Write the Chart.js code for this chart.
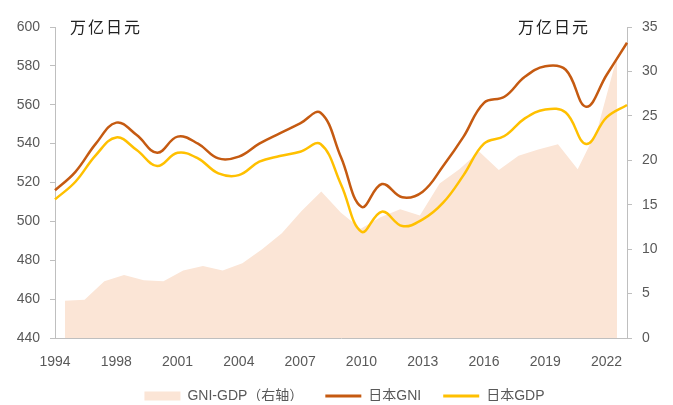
<!DOCTYPE html>
<html><head><meta charset="utf-8">
<script src="https://cdn.jsdelivr.net/npm/chart.js@4.4.1/dist/chart.umd.min.js"></script>
<style>html,body{margin:0;padding:0;background:#fff;}canvas{display:block}</style>
</head><body>
<canvas id="c" width="673" height="405"></canvas>
<script>
const categories = ['1994','1996','1997','1998','1999','2000','2001','2002','2003','2004','2005','2006','2007','2008','2009','2010','2011','2012','2013','2014','2015','2016','2017','2018','2019','2020','2021','2022','2023'];
const gniValues = [516, 525.5, 540, 550.8, 544.4, 535.3, 543.6, 540, 532.4, 533.3, 540, 545.3, 550.4, 555.9, 533, 507.5, 519.2, 512.4, 515.3, 528.5, 543.6, 561, 564.1, 574.4, 579.8, 578, 559, 575.3, 591.9];
const gdpValues = [511.3, 520.4, 534.1, 543.2, 536.7, 528.5, 535.3, 532.4, 524.7, 523.8, 530.7, 533.6, 535.8, 539.8, 519, 494.7, 505, 497.6, 501, 509.6, 523.8, 540, 543.9, 553, 557.6, 556, 539.8, 553.5, 559.9];
const gapValues = [4.2, 4.3, 6.4, 7.1, 6.5, 6.4, 7.6, 8.1, 7.6, 8.4, 10.0, 11.8, 14.3, 16.5, 14.1, 12.3, 13.6, 14.5, 13.8, 17.4, 19.0, 21.0, 18.9, 20.5, 21.2, 21.8, 19.0, 23.5, 31.7];
const xTickLabels = ['1994','1998','2001','2004','2007','2010','2013','2016','2019','2022'];
const leftTicks = [440, 460, 480, 500, 520, 540, 560, 580, 600];
const rightTicks = [0, 5, 10, 15, 20, 25, 30, 35];
const seriesNames = ['GNI-GDP（右轴）', '日本GNI', '日本GDP'];
const unitLabel = '万亿日元';

const FONT = "'Liberation Sans', Arial, 'Noto Sans CJK SC', sans-serif";
const GREY = '#595959';
const AXIS = '#BFBFBF';
const COLORS = ['#FBE5D6', '#C55A11', '#FFC000'];

const unitPlugin = {
  id: 'units',
  afterLayout(chart) {
    const lg = chart.legend;
    if (lg) { lg.top -= 4; lg.bottom -= 4; lg.left += 8; lg.right += 8; }
  },
  afterDraw(chart) {
    const ctx = chart.ctx;
    ctx.save();
    ctx.font = "16px 'Noto Sans CJK SC'";
    ctx.fillStyle = '#222';
    try { ctx.letterSpacing = '2px'; } catch (e) {}
    ctx.textBaseline = 'middle';
    ctx.textAlign = 'left';
    ctx.fillText(unitLabel, 70, 27);
    ctx.fillText(unitLabel, 518, 27);
    ctx.restore();
  }
};

Chart.defaults.font.family = FONT;
Chart.defaults.color = GREY;

new Chart(document.getElementById('c'), {
  type: 'line',
  data: {
    labels: categories,
    datasets: [
      { label: seriesNames[0], data: gapValues, xAxisID: 'x2', yAxisID: 'y2', fill: 'origin',
        backgroundColor: COLORS[0], borderColor: COLORS[0], borderWidth: 0, pointRadius: 0, tension: 0, order: 3 },
      { label: seriesNames[1], data: gniValues, xAxisID: 'x', yAxisID: 'y', fill: false,
        borderColor: COLORS[1], backgroundColor: COLORS[1], borderWidth: 2.5, pointRadius: 0, tension: 0.4, order: 2 },
      { label: seriesNames[2], data: gdpValues, xAxisID: 'x', yAxisID: 'y', fill: false,
        borderColor: COLORS[2], backgroundColor: COLORS[2], borderWidth: 2.5, pointRadius: 0, tension: 0.4, order: 1 }
    ]
  },
  options: {
    responsive: false, animation: false, devicePixelRatio: 1,
    layout: { padding: { top: 27, bottom: 0, left: 0, right: 0 } },
    plugins: {
      tooltip: { enabled: false },
      legend: {
        position: 'bottom', maxHeight: 34,
        labels: {
          usePointStyle: true, pointStyleWidth: 36, boxHeight: 9, padding: 22,
          font: { size: 14, family: FONT }, color: GREY,
          generateLabels(chart) {
            return chart.data.datasets.map((ds, i) => ({
              text: ds.label, fillStyle: COLORS[i], strokeStyle: COLORS[i],
              lineWidth: i === 0 ? 0 : 3, pointStyle: i === 0 ? 'rect' : 'line',
              datasetIndex: i, hidden: false, fontColor: GREY
            }));
          }
        }
      }
    },
    scales: {
      x: {
        type: 'category', offset: false,
        grid: { display: true, drawOnChartArea: false, drawTicks: false, color: AXIS },
        border: { color: AXIS, width: 1 },
        ticks: {
          autoSkip: false, maxRotation: 0, padding: 16, font: { size: 14 }, color: GREY,
          callback(v, i) { const l = categories[i]; return xTickLabels.includes(l) ? l : ''; }
        },
        afterFit(a) { a.height = 33; }
      },
      x2: { type: 'category', offset: true, display: false },
      y: {
        position: 'left', min: leftTicks[0], max: leftTicks[leftTicks.length - 1],
        afterBuildTicks(a) { a.ticks = leftTicks.map(v => ({ value: v })); },
        ticks: { padding: 10, font: { size: 14 }, color: GREY },
        grid: { drawOnChartArea: false, tickLength: 5, color: AXIS },
        border: { color: AXIS },
        afterFit(a) { a.width = 55; }
      },
      y2: {
        position: 'right', min: rightTicks[0], max: rightTicks[rightTicks.length - 1],
        afterBuildTicks(a) { a.ticks = rightTicks.map(v => ({ value: v })); },
        ticks: { padding: 10, font: { size: 14 }, color: GREY },
        grid: { drawOnChartArea: false, tickLength: 5, color: AXIS },
        border: { color: AXIS },
        afterFit(a) { a.width = 46; }
      }
    }
  },
  plugins: [unitPlugin]
});
</script>
</body></html>
